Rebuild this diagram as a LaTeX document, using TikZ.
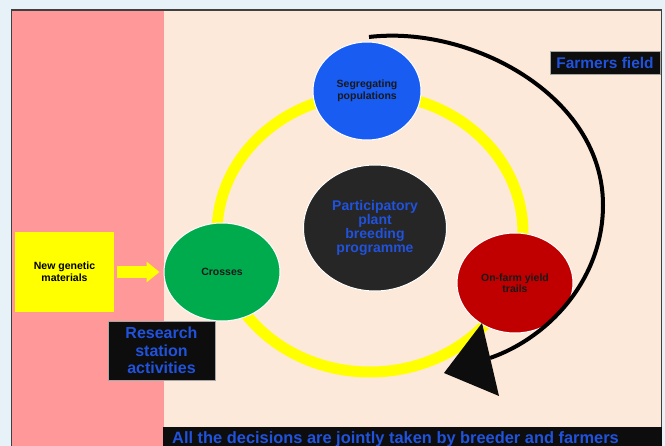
\documentclass[tikz,border=0pt]{standalone}
\usepackage{fontspec}
\setmainfont{Liberation Sans}
\usetikzlibrary{shapes.geometric,arrows.meta}
\definecolor{bgblue}{HTML}{E6F2F7}
\definecolor{pinkbg}{HTML}{FF9999}
\definecolor{peach}{HTML}{FDE9DA}
\definecolor{txtblue}{HTML}{2052DC}
\definecolor{cblue}{HTML}{185CF2}
\definecolor{cgreen}{HTML}{00AB4E}
\definecolor{cred}{HTML}{C00000}
\definecolor{cdark}{HTML}{262626}
\definecolor{ringyellow}{HTML}{FFFF00}
\definecolor{boxblack}{HTML}{0D0D0D}
\begin{document}
\begin{tikzpicture}[x=1pt,y=-1pt,
  stage/.style={ellipse, draw=white, line width=1pt, inner sep=0pt, align=center,
    font=\bfseries\fontsize{10.5}{11.5}\selectfont, text=black!90},
  labelbox/.style={fill=boxblack, draw=gray!70, line width=0.8pt, text=txtblue,
    align=center, inner sep=0pt}]
\useasboundingbox (0,0) rectangle (665,446);
% backgrounds
\fill[bgblue] (0,0) rectangle (665,446);
\fill[pinkbg] (12,10) rectangle (164,446);
\fill[peach] (164,10) rectangle (661,427);
\fill[boxblack] (163,427) rectangle (662,446);
\draw[black!75, line width=1.2pt] (11.5,446) -- (11.5,10) -- (661.5,10) -- (661.5,427);
% ring
\draw[ringyellow, line width=11pt] (370,233) ellipse [x radius=153pt, y radius=139pt];
% circles
\node[stage, fill=cblue, minimum width=108pt, minimum height=98pt] (seg) at (367,91) {Segregating\\populations};
\node[stage, fill=cgreen, minimum width=116pt, minimum height=98pt] (cross) at (222,272) {Crosses};
\node[stage, fill=cred, minimum width=116pt, minimum height=100pt] (farm) at (515,283) {On-farm yield\\trails};
\node[ellipse, fill=cdark, draw=white, line width=1pt, minimum width=143pt, minimum height=126pt, inner sep=0pt,
  text=txtblue, font=\bfseries\fontsize{14}{14.2}\selectfont, align=center] (ppb) at (375,228)
  {Participatory\\plant\\breeding\\programme};
% new genetic materials
\node[fill=ringyellow, minimum width=99pt, minimum height=80pt, inner sep=0pt,
  font=\bfseries\fontsize{10.5}{12}\selectfont, align=center] (ngm) at (64.5,272) {New genetic\\materials};
\draw[ringyellow, line width=12pt, -{Triangle[length=13pt,width=20pt]}]
  ([xshift=3pt]ngm.east) -- ([xshift=-4pt]cross.west);
% labels
\node[labelbox, minimum width=107pt, minimum height=59pt, font=\bfseries\fontsize{16}{17.5}\selectfont] (rsa) at (161.5,350.5) {Research\\station\\activities};
\node[labelbox, minimum width=110pt, minimum height=23pt, font=\bfseries\fontsize{15.5}{16}\selectfont] (ff) at (605,62.5) {Farmers field};
\node[anchor=base west, inner sep=0pt, text=txtblue, font=\bfseries\fontsize{16.4}{18}\selectfont] (dec) at (172,444) {All the decisions are jointly taken by breeder and farmers};
% black arc arrow
\coordinate (arcS) at (369,37);
\coordinate (arcM) at (603,205);
\coordinate (arcE) at (490,358);
\coordinate (tipA) at (444,373);
\coordinate (tipB) at (482,323);
\coordinate (tipC) at (499,396);
\draw[black, line width=4pt] (arcS) .. controls (470,25) and (603,95) .. (arcM)
  .. controls (603,280) and (548,338) .. (arcE);
\fill[boxblack] (tipA) -- (tipB) -- (tipC) -- cycle;
\end{tikzpicture}
\end{document}
